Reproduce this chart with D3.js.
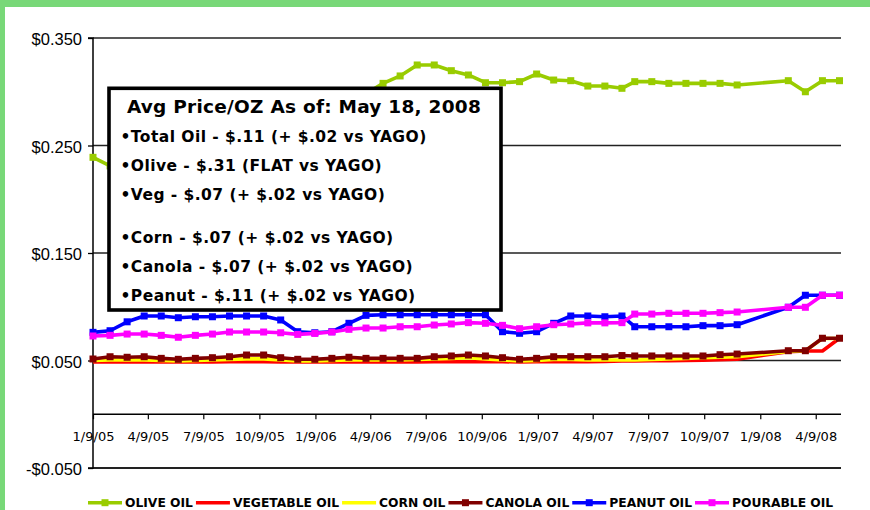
<!DOCTYPE html>
<html>
<head>
<meta charset="utf-8">
<script src="https://cdn.jsdelivr.net/npm/d3@7"></script>
<style>
  html, body { margin: 0; padding: 0; background: #fff; }
  svg { display: block; }
</style>
</head>
<body>
<svg id="chart" width="870" height="510"></svg>
<script>
// ---------------- DATA ----------------
// 4-week period end dates (two periods missing around the new year 2008)
const dates = [
  "2005-01-09","2005-02-06","2005-03-06","2005-04-03","2005-05-01","2005-05-29","2005-06-26","2005-07-24",
  "2005-08-21","2005-09-18","2005-10-16","2005-11-13","2005-12-11","2006-01-08","2006-02-05","2006-03-05",
  "2006-04-02","2006-04-30","2006-05-28","2006-06-25","2006-07-23","2006-08-20","2006-09-17","2006-10-15",
  "2006-11-12","2006-12-10","2007-01-07","2007-02-04","2007-03-04","2007-04-01","2007-04-29","2007-05-27",
  "2007-06-17","2007-07-15","2007-08-12","2007-09-09","2007-10-07","2007-11-04","2007-12-02",
  "2008-02-24","2008-03-23","2008-04-20","2008-05-18"
];

const oliveOil = [
  0.239, 0.231, 0.228, 0.232, 0.236, 0.240, 0.246, 0.250,
  0.255, 0.262, 0.266, 0.270, 0.276, 0.282, 0.288, 0.292,
  0.298, 0.3078, 0.3147, 0.3249, 0.3249, 0.3196, 0.3156, 0.3084,
  0.3084, 0.3094, 0.3165, 0.3109, 0.3103, 0.3053, 0.3053, 0.3032,
  0.3094, 0.3094, 0.3078, 0.3078, 0.3078, 0.3078, 0.3063,
  0.3103, 0.3000, 0.3103, 0.3103
];
const vegetableOil = [
  0.0487, 0.0487, 0.0487, 0.0487, 0.0487, 0.0486, 0.0487, 0.0487,
  0.0488, 0.0488, 0.0488, 0.0487, 0.0486, 0.0486, 0.0487, 0.0487,
  0.0487, 0.0487, 0.0487, 0.0487, 0.0488, 0.0489, 0.0489, 0.0489,
  0.0488, 0.0487, 0.0488, 0.0489, 0.0489, 0.0489, 0.0490, 0.0495,
  0.0495, 0.0497, 0.0498, 0.0500, 0.0502, 0.0508, 0.0512,
  0.0582, 0.0588, 0.0588, 0.0707
];
const cornOil = [
  0.0500, 0.0505, 0.0505, 0.0505, 0.0500, 0.0495, 0.0500, 0.0505,
  0.0510, 0.0515, 0.0515, 0.0505, 0.0495, 0.0495, 0.0500, 0.0505,
  0.0505, 0.0505, 0.0505, 0.0510, 0.0515, 0.0520, 0.0525, 0.0515,
  0.0505, 0.0495, 0.0500, 0.0510, 0.0510, 0.0505, 0.0505, 0.0505,
  0.0505, 0.0510, 0.0515, 0.0520, 0.0525, 0.0530, 0.0535,
  0.0585, 0.0590, 0.0705, 0.0705
];
const canolaOil = [
  0.0514, 0.0535, 0.0530, 0.0535, 0.0520, 0.0511, 0.0520, 0.0526,
  0.0535, 0.0551, 0.0551, 0.0526, 0.0511, 0.0511, 0.0520, 0.0530,
  0.0520, 0.0520, 0.0520, 0.0520, 0.0535, 0.0542, 0.0551, 0.0542,
  0.0526, 0.0511, 0.0520, 0.0535, 0.0535, 0.0535, 0.0535, 0.0546,
  0.0542, 0.0542, 0.0542, 0.0542, 0.0542, 0.0554, 0.0560,
  0.0591, 0.0591, 0.0707, 0.0707
];
const peanutOil = [
  0.0762, 0.0777, 0.0860, 0.0914, 0.0914, 0.0898, 0.0907, 0.0907,
  0.0914, 0.0914, 0.0914, 0.0877, 0.0768, 0.0758, 0.0768, 0.0846,
  0.0920, 0.0926, 0.0926, 0.0926, 0.0926, 0.0926, 0.0926, 0.0926,
  0.0768, 0.0753, 0.0768, 0.0846, 0.0914, 0.0914, 0.0907, 0.0914,
  0.0814, 0.0814, 0.0814, 0.0814, 0.0824, 0.0824, 0.0833,
  0.0995, 0.1107, 0.1107, 0.1107
];
const pourableOil = [
  0.0728, 0.0734, 0.0746, 0.0746, 0.0734, 0.0716, 0.0734, 0.0746,
  0.0765, 0.0765, 0.0765, 0.0758, 0.0743, 0.0752, 0.0765, 0.0790,
  0.0802, 0.0802, 0.0814, 0.0814, 0.0830, 0.0840, 0.0852, 0.0846,
  0.0827, 0.0796, 0.0814, 0.0833, 0.0840, 0.0850, 0.0850, 0.0852,
  0.0932, 0.0932, 0.0939, 0.0939, 0.0939, 0.0945, 0.0951,
  0.0995, 0.0995, 0.1107, 0.1107
];

const seriesNames  = ["OLIVE OIL", "VEGETABLE OIL", "CORN OIL", "CANOLA OIL", "PEANUT OIL", "POURABLE OIL"];
const seriesColors = ["#99CC00", "#FF0000", "#FFFF00", "#800000", "#0000FF", "#FF00FF"];
const seriesMarkers = [true, false, false, true, true, true];
const seriesValues = [oliveOil, vegetableOil, cornOil, canolaOil, peanutOil, pourableOil];

const xTickDates  = ["2005-01-09","2005-04-09","2005-07-09","2005-10-09","2006-01-09","2006-04-09","2006-07-09",
                     "2006-10-09","2007-01-09","2007-04-09","2007-07-09","2007-10-09","2008-01-09","2008-04-09"];
const xTickLabels = ["1/9/05","4/9/05","7/9/05","10/9/05","1/9/06","4/9/06","7/9/06",
                     "10/9/06","1/9/07","4/9/07","7/9/07","10/9/07","1/9/08","4/9/08"];
const yTicks      = [-0.05, 0.05, 0.15, 0.25, 0.35];
const yTickLabels = ["-$0.050", "$0.050", "$0.150", "$0.250", "$0.350"];

const boxTitle = "Avg Price/OZ As of: May 18, 2008";
const boxLines = [
  "\u2022Total Oil - $.11 (+ $.02 vs YAGO)",
  "\u2022Olive - $.31 (FLAT vs YAGO)",
  "\u2022Veg - $.07 (+ $.02 vs YAGO)",
  "\u2022Corn - $.07 (+ $.02 vs YAGO)",
  "\u2022Canola - $.07 (+ $.02 vs YAGO)",
  "\u2022Peanut - $.11 (+ $.02 vs YAGO)"
];

// ---------------- DRAW ----------------
const svg = d3.select("#chart");
const parse = d3.utcParse("%Y-%m-%d");
const dateObjs = dates.map(parse);

const x = d3.scaleUtc()
  .domain([parse("2005-01-09"), parse("2008-05-18")])
  .range([93, 839.5]);
const y = d3.scaleLinear().domain([-0.05, 0.35]).range([468, 38]);
const plotRight = 841;

// green frame
svg.append("rect").attr("x", 0).attr("y", 0).attr("width", 870).attr("height", 510).attr("fill", "#fff");
svg.append("rect").attr("x", 0).attr("y", 0).attr("width", 870).attr("height", 7).attr("fill", "#78D878");
svg.append("rect").attr("x", 0).attr("y", 0).attr("width", 5).attr("height", 510).attr("fill", "#78D878");

// gridlines
svg.append("g").selectAll("line").data(yTicks).join("line")
  .attr("x1", x.range()[0]).attr("x2", plotRight)
  .attr("y1", d => y(d)).attr("y2", d => y(d))
  .attr("stroke", "#222").attr("stroke-width", d => d === -0.05 ? 1.8 : 1.3);

// y axis
const yAxis = d3.axisLeft(y).tickValues(yTicks).tickSize(5).tickPadding(6)
  .tickFormat((d, i) => yTickLabels[i]);
const gy = svg.append("g").attr("transform", `translate(${x.range()[0]},0)`).call(yAxis);
gy.select(".domain").attr("stroke", "#000").attr("stroke-width", 1.5).attr("d", `M-5,${y(0.35)}H0V${y(-0.05)}H-5`);
gy.selectAll(".tick line").attr("stroke", "#000").attr("stroke-width", 1.3);
gy.selectAll(".tick text")
  .attr("font-family", "'Liberation Sans', Arial, sans-serif")
  .attr("font-size", 16.5).attr("fill", "#000").attr("dy", "0.4em");

// x axis at zero
const xAxis = d3.axisBottom(x).tickValues(xTickDates.map(parse)).tickSize(5).tickPadding(13)
  .tickFormat((d, i) => xTickLabels[i]);
const gx = svg.append("g").attr("transform", `translate(0,${y(0)})`).call(xAxis);
gx.select(".domain").attr("stroke", "#000").attr("stroke-width", 1.5)
  .attr("d", `M${x.range()[0]},0H${plotRight}`);
gx.selectAll(".tick line").attr("stroke", "#000").attr("stroke-width", 1.2);
gx.selectAll(".tick text")
  .attr("font-family", "'DejaVu Sans', Verdana, sans-serif")
  .attr("font-size", 13).attr("fill", "#000");

// series
const line = d3.line().x((d, i) => x(dateObjs[i])).y(d => y(d));
seriesValues.forEach((vals, s) => {
  const g = svg.append("g");
  g.append("path").datum(vals).attr("d", line)
    .attr("fill", "none").attr("stroke", seriesColors[s]).attr("stroke-width", 3.6)
    .attr("stroke-linejoin", "round");
  if (seriesMarkers[s]) {
    g.selectAll("rect").data(vals).join("rect")
      .attr("x", (d, i) => x(dateObjs[i]) - 3.5)
      .attr("y", d => y(d) - 3.5)
      .attr("width", 7).attr("height", 7)
      .attr("fill", seriesColors[s]);
  }
});

// text box
const box = svg.append("g");
box.append("rect").attr("x", 109).attr("y", 88.3).attr("width", 392).attr("height", 221.7)
  .attr("fill", "#fff").attr("stroke", "#000").attr("stroke-width", 3.6);
box.append("text").attr("x", 304).attr("y", 113).attr("text-anchor", "middle")
  .attr("font-family", "'DejaVu Sans', Verdana, sans-serif").attr("font-weight", "bold")
  .attr("font-size", 18.5).attr("letter-spacing", 0.25).text(boxTitle);
const lineYs = [142.3, 171.3, 200.3, 242.5, 272, 301];
box.selectAll("text.ln").data(boxLines).join("text").attr("class", "ln")
  .attr("x", 120.5).attr("y", (d, i) => lineYs[i])
  .attr("font-family", "'DejaVu Sans', Verdana, sans-serif").attr("font-weight", "bold")
  .attr("font-size", 15.5).attr("letter-spacing", 0.45).text(d => d);

// legend
const leg = svg.append("g");
let lx = 88;
const ly = 502.7;
seriesNames.forEach((name, s) => {
  leg.append("line").attr("x1", lx).attr("x2", lx + 34).attr("y1", ly).attr("y2", ly)
    .attr("stroke", seriesColors[s]).attr("stroke-width", 3.6);
  if (seriesMarkers[s]) {
    leg.append("rect").attr("x", lx + 17 - 3.5).attr("y", ly - 3.5).attr("width", 7).attr("height", 7)
      .attr("fill", seriesColors[s]);
  }
  const t = leg.append("text").attr("x", lx + 37).attr("y", ly + 4.6)
    .attr("font-family", "'DejaVu Sans', sans-serif").attr("font-weight", "bold")
    .attr("font-size", 12.3).attr("fill", "#000").text(name);
  lx = lx + 37 + t.node().getComputedTextLength() + 3;
});
</script>
</body>
</html>
